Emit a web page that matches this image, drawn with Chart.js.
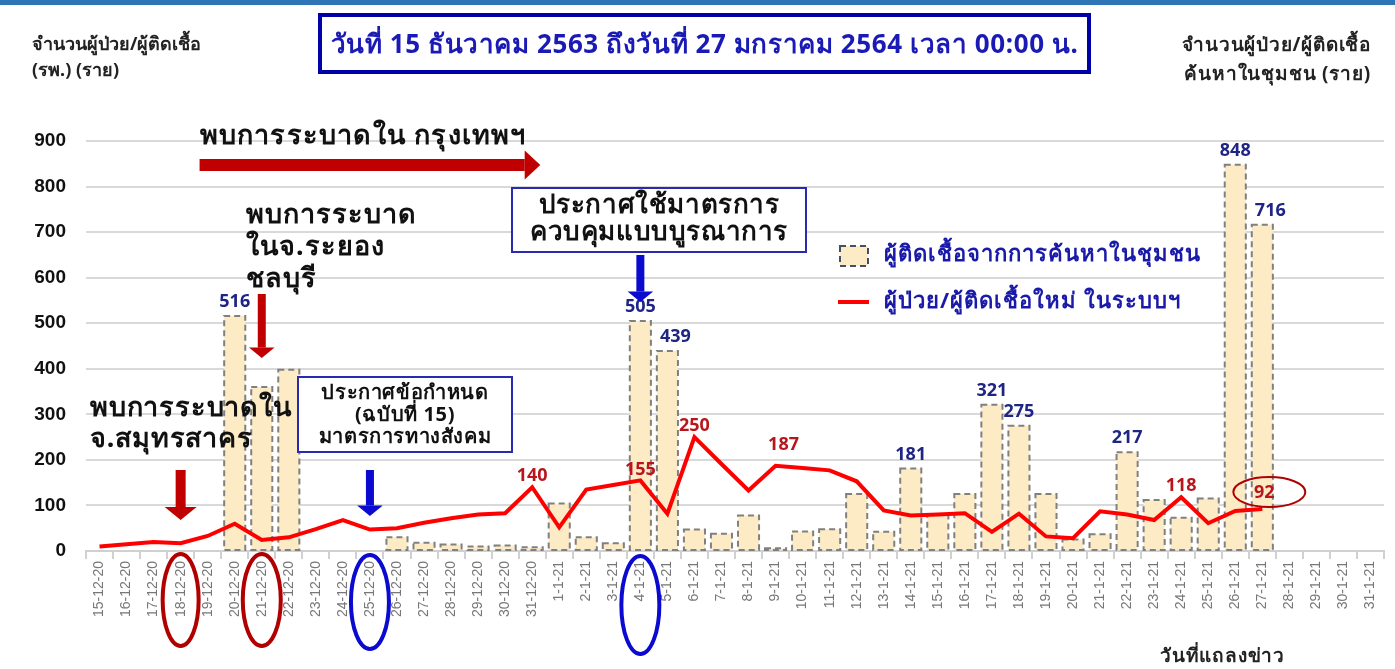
<!DOCTYPE html>
<html lang="th">
<head>
<meta charset="utf-8">
<script src="https://cdn.jsdelivr.net/npm/chart.js@4.4.0/dist/chart.umd.min.js"></script>
<style>
  body { margin: 0; background: #fff; font-family: "Noto Sans", "DejaVu Sans", sans-serif; }
  #wrap { position: relative; width: 1395px; height: 669px; overflow: hidden; }
  #topbar { position: absolute; left: 0; top: 0; width: 1395px; height: 5px; background: #2e75b6; }
  #title {
    position: absolute; left: 318px; top: 13px; width: 765px; height: 53px;
    border: 4px solid #0000a8; color: #1a1ab4; font-size: 26px; font-weight: bold; letter-spacing: 0.6px;
    display: flex; align-items: center; justify-content: center; white-space: nowrap;
  }
  .note { position: absolute; color: #222; font-weight: bold; white-space: nowrap; }
  #leftTitle { left: 32px; top: 30px; font-size: 18px; line-height: 26px; }
  #rightTitle { right: 24px; top: 30px; text-align: right; font-size: 19px; line-height: 29px; letter-spacing: 0.8px; }
  #xTitle { left: 1160px; top: 640px; font-size: 19px; letter-spacing: 0.8px; }
  canvas { position: absolute; left: 0; top: 0; }
</style>
</head>
<body>
<div id="wrap">
  <canvas id="chart" width="1395" height="669"></canvas>
  <div id="topbar"></div>
  <div id="title">วันที่ 15 ธันวาคม 2563 ถึงวันที่ 27 มกราคม 2564 เวลา 00:00 น.</div>
  <div class="note" id="leftTitle">จำนวนผู้ป่วย/ผู้ติดเชื้อ<br>(รพ.) (ราย)</div>
  <div class="note" id="rightTitle">จำนวนผู้ป่วย/ผู้ติดเชื้อ<br>ค้นหาในชุมชน (ราย)</div>
  <div class="note" id="xTitle">วันที่แถลงข่าว</div>
</div>
<script>
const dates = [
  '15-12-20', '16-12-20', '17-12-20', '18-12-20', '19-12-20', '20-12-20', '21-12-20', '22-12-20',
  '23-12-20', '24-12-20', '25-12-20', '26-12-20', '27-12-20', '28-12-20', '29-12-20', '30-12-20',
  '31-12-20', '1-1-21', '2-1-21', '3-1-21', '4-1-21', '5-1-21', '6-1-21', '7-1-21', '8-1-21',
  '9-1-21', '10-1-21', '11-1-21', '12-1-21', '13-1-21', '14-1-21', '15-1-21', '16-1-21', '17-1-21',
  '18-1-21', '19-1-21', '20-1-21', '21-1-21', '22-1-21', '23-1-21', '24-1-21', '25-1-21', '26-1-21',
  '27-1-21', '28-1-21', '29-1-21', '30-1-21', '31-1-21'
];

// ผู้ติดเชื้อจากการค้นหาในชุมชน
const communityCases = [
  null, null, null, null, null, 516, 360, 398, null, null, null, 30, 18, 14, 10, 12,
  8, 104, 30, 17, 505, 439, 47, 38, 78, 6, 43, 48, 125, 42, 181, 80, 125, 321,
  275, 125, 25, 37, 217, 112, 73, 115, 848, 716, null, null, null, null
];

// ผู้ป่วย/ผู้ติดเชื้อใหม่ ในระบบฯ
const hospitalCases = [
  10, 15, 20, 17, 33, 60, 24, 30, 48, 68, 47, 50, 62, 72, 80, 83,
  140, 52, 135, 145, 155, 82, 250, 191, 133, 187, 182, 177, 153, 89, 78, 80, 83, 42,
  82, 32, 28, 87, 80, 68, 118, 61, 88, 92, null, null, null, null
];

const yTicks = [0, 100, 200, 300, 400, 500, 600, 700, 800, 900];

// which points get a number written above them
const communityLabelled = [5, 20, 21, 30, 33, 34, 38, 42, 43];
const hospitalLabelled = [16, 20, 22, 25, 40, 43];

const THAI = '"Noto Sans", "DejaVu Sans", sans-serif';

function arrowDown(ctx, x, y1, y2, color, w) {
  const hw = w * 1.6, hh = w * 1.3;
  ctx.fillStyle = color;
  ctx.fillRect(x - w / 2, y1, w, y2 - y1 - hh);
  ctx.beginPath();
  ctx.moveTo(x - hw, y2 - hh);
  ctx.lineTo(x + hw, y2 - hh);
  ctx.lineTo(x, y2);
  ctx.closePath();
  ctx.fill();
}

function arrowRight(ctx, x1, x2, y, color, w) {
  const hw = w * 1.2, hh = w * 1.3;
  ctx.fillStyle = color;
  ctx.fillRect(x1, y - w / 2, x2 - x1 - hh, w);
  ctx.beginPath();
  ctx.moveTo(x2 - hh, y - hw);
  ctx.lineTo(x2 - hh, y + hw);
  ctx.lineTo(x2, y);
  ctx.closePath();
  ctx.fill();
}

function ellipse(ctx, cx, cy, rx, ry, color, w) {
  ctx.beginPath();
  ctx.ellipse(cx, cy, rx, ry, 0, 0, Math.PI * 2);
  ctx.strokeStyle = color;
  ctx.lineWidth = w;
  ctx.stroke();
}

function textLines(ctx, lines, x, y, lh, font, color, align, spacing) {
  ctx.font = font;
  ctx.fillStyle = color;
  ctx.textAlign = align || 'left';
  ctx.textBaseline = 'middle';
  ctx.letterSpacing = (spacing || 0) + 'px';
  lines.forEach((t, i) => ctx.fillText(t, x, y + i * lh));
  ctx.letterSpacing = '0px';
}

function box(ctx, x, y, w, h, color, lw) {
  ctx.fillStyle = '#fff';
  ctx.fillRect(x, y, w, h);
  ctx.strokeStyle = color;
  ctx.lineWidth = lw;
  ctx.strokeRect(x, y, w, h);
}

// Chart.js bars have no dashed border, so outline them here, before the line is drawn
const dashedBars = {
  id: 'dashedBars',
  afterDatasetDraw(chart, args) {
    if (args.meta.type !== 'bar') return;
    const ctx = chart.ctx;
    ctx.save();
    ctx.setLineDash([6, 4]);
    ctx.strokeStyle = '#808080';
    ctx.lineWidth = 2;
    args.meta.data.forEach((bar, i) => {
      if (communityCases[i] == null) return;
      const p = bar.getProps(['x', 'y', 'base', 'width'], true);
      ctx.strokeRect(p.x - p.width / 2, p.y, p.width, p.base - p.y);
    });
    ctx.restore();
  }
};

const decorations = {
  id: 'decorations',
  afterDraw(chart) {
    const ctx = chart.ctx;
    const xs = chart.scales.x, ys = chart.scales.y;
    const px = i => xs.getPixelForValue(i);
    const py = v => ys.getPixelForValue(v);
    ctx.save();

    // value labels
    ctx.font = 'bold 18px ' + THAI;
    ctx.textAlign = 'center';
    ctx.textBaseline = 'bottom';
    ctx.fillStyle = '#1f2585';
    communityLabelled.forEach(i => {
      ctx.fillText(String(communityCases[i]), px(i) + (i === 21 || i === 43 ? 8 : 0), py(communityCases[i]) - 5);
    });
    ctx.fillStyle = '#b8161c';
    hospitalLabelled.forEach(i => {
      if (i === 43) return;
      const dy = i === 25 ? 12 : 2;
      ctx.fillText(String(hospitalCases[i]), px(i) + (i === 25 ? 8 : 0), py(hospitalCases[i]) - dy);
    });
    // the last one sits in a ring
    ctx.textBaseline = 'middle';
    ctx.fillText(String(hospitalCases[43]), px(43) + 2, py(hospitalCases[43]) - 16);
    ellipse(ctx, px(43) + 7, py(hospitalCases[43]) - 17, 36, 15, '#b00000', 2);

    // Bangkok
    textLines(ctx, ['พบการระบาดใน กรุงเทพฯ'], px(3.7), 136, 0, 'bold 27px ' + THAI, '#111', 'left', 1.2);
    arrowRight(ctx, px(3.7), px(16.3), 165, '#c00000', 12);

    // Rayong / Chonburi
    textLines(ctx, ['พบการระบาด', 'ในจ.ระยอง', 'ชลบุรี'], 246, 215, 32, 'bold 27px ' + THAI, '#111', 'left', 1);
    arrowDown(ctx, px(6), 294, 358, '#c00000', 8);

    // Samut Sakhon
    textLines(ctx, ['พบการระบาดใน', 'จ.สมุทรสาคร'], 90, 408, 31, 'bold 27px ' + THAI, '#111', 'left', 0.8);
    arrowDown(ctx, px(3), 470, 520, '#c00000', 10);

    // notice no.15
    box(ctx, 298, 377, 214, 75, '#2a2ab0', 2);
    textLines(ctx, ['ประกาศข้อกำหนด', '(ฉบับที่ 15)', 'มาตรการทางสังคม'], 405, 393, 22, 'bold 20px ' + THAI, '#111', 'center', 0.6);
    arrowDown(ctx, px(10), 470, 516, '#0a0ad0', 8);

    // integrated measures
    box(ctx, 512, 188, 294, 64, '#2a2ab0', 2);
    textLines(ctx, ['ประกาศใช้มาตรการ', 'ควบคุมแบบบูรณาการ'], 659, 206, 27, 'bold 26px ' + THAI, '#111', 'center', 0.6);
    arrowDown(ctx, px(20), 255, 302, '#0a0ad0', 8);

    // legend
    ctx.setLineDash([6, 4]);
    ctx.fillStyle = '#fdebc6';
    ctx.fillRect(840, 246, 28, 20);
    ctx.strokeStyle = '#445066';
    ctx.lineWidth = 2;
    ctx.strokeRect(840, 246, 28, 20);
    ctx.setLineDash([]);
    ctx.fillStyle = '#ff0000';
    ctx.fillRect(838, 300, 31, 4);
    textLines(ctx, ['ผู้ติดเชื้อจากการค้นหาในชุมชน', 'ผู้ป่วย/ผู้ติดเชื้อใหม่ ในระบบฯ'], 884, 255, 47, 'bold 22px ' + THAI, '#1a1aa8', 'left', 1);

    // circles round the dates
    ellipse(ctx, px(3), 600, 18, 46, '#b00000', 4);
    ellipse(ctx, px(6), 600, 19, 46, '#b00000', 4);
    ellipse(ctx, px(10), 602, 19, 47, '#0a0ad0', 4);
    ellipse(ctx, px(20), 605, 19, 49, '#0a0ad0', 4);

    ctx.restore();
  }
};

new Chart(document.getElementById('chart'), {
  data: {
    labels: dates,
    datasets: [
      {
        type: 'line',
        label: 'ผู้ป่วย/ผู้ติดเชื้อใหม่ ในระบบฯ',
        data: hospitalCases,
        borderColor: '#ff0000',
        borderWidth: 4,
        pointRadius: 0,
        tension: 0,
        order: 1
      },
      {
        type: 'bar',
        label: 'ผู้ติดเชื้อจากการค้นหาในชุมชน',
        data: communityCases,
        backgroundColor: '#fdebc6',
        borderWidth: 0,
        barPercentage: 0.78,
        categoryPercentage: 1,
        order: 2
      }
    ]
  },
  options: {
    responsive: false,
    animation: false,
    layout: { padding: { top: 141, right: 11, left: 0, bottom: 0 } },
    plugins: { legend: { display: false }, tooltip: { enabled: false } },
    scales: {
      x: {
        afterFit: s => { s.height = 118; },
        grid: { display: true, drawOnChartArea: false, offset: true, tickLength: 8, color: '#d0d0d0', lineWidth: 2 },
        border: { color: '#d0d0d0', width: 2 },
        ticks: {
          minRotation: 90, maxRotation: 90, autoSkip: false, padding: 2,
          color: '#777', font: { size: 14, family: '"Liberation Sans", Arial, sans-serif' }
        }
      },
      y: {
        min: 0, max: 900,
        afterFit: s => { s.width = 86; },
        afterBuildTicks: s => { s.ticks = yTicks.map(v => ({ value: v })); },
        grid: { color: '#d9d9d9', lineWidth: 2, drawTicks: false },
        border: { display: false },
        ticks: {
          padding: 20, color: '#111',
          font: { size: 19, weight: 'bold', family: '"Liberation Sans", Arial, sans-serif' }
        }
      }
    }
  },
  plugins: [dashedBars, decorations]
});
</script>
</body>
</html>
